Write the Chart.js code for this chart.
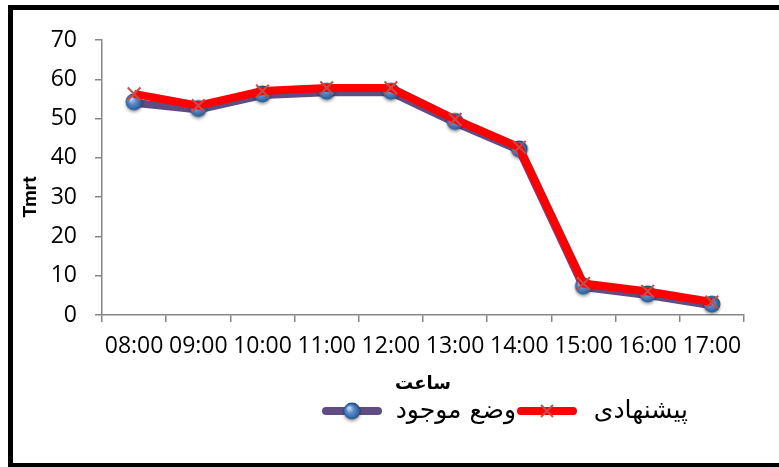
<!DOCTYPE html>
<html>
<head>
<meta charset="utf-8">
<script src="https://cdn.jsdelivr.net/npm/chart.js@4/dist/chart.umd.min.js"></script>
<style>
  html, body { margin: 0; padding: 0; background: #fff; }
  #wrap { width: 779px; height: 467px; }
</style>
</head>
<body>
<div id="wrap"><canvas id="tmrtChart" width="779" height="467"></canvas></div>
<script>
// ساعات اندازه‌گیری و مقادیر Tmrt
const hours = ['08:00', '09:00', '10:00', '11:00', '12:00', '13:00', '14:00', '15:00', '16:00', '17:00'];
const existingTmrt = [54, 52.3, 56, 56.7, 56.7, 49, 42, 7.1, 5.1, 2.5];
const proposedTmrt = [56.3, 53.3, 57, 57.8, 57.8, 49.8, 42.7, 8, 6, 3.3];
const yTicks = [0, 10, 20, 30, 40, 50, 60, 70];

const seriesNames = ['وضع موجود', 'پیشنهادی'];
const axisColor = '#868686';
const purple = '#5E4C82';
const red = '#FF0000';
const crossColor = '#C0504D';
const tickFont = { family: 'Open Sans', size: 23 };

// نشانگر کروی آبی
function makeSphere() {
    const c = document.createElement('canvas');
    c.width = 24; c.height = 24;
    const g = c.getContext('2d');
    g.shadowColor = 'rgba(0,0,0,0.35)';
    g.shadowBlur = 3;
    g.shadowOffsetY = 2;
    const grad = g.createRadialGradient(9, 8, 1, 12, 12, 9);
    grad.addColorStop(0, '#B9D3F0');
    grad.addColorStop(0.35, '#5B8FCB');
    grad.addColorStop(0.8, '#2E609C');
    grad.addColorStop(1, '#1E4573');
    g.fillStyle = grad;
    g.beginPath();
    g.arc(12, 11, 8.5, 0, Math.PI * 2);
    g.fill();
    return c;
}
const sphere = makeSphere();

// قاب، عنوان محور عمودی و راهنما
const decorations = {
    id: 'decorations',
    afterDraw(chart) {
        const ctx = chart.ctx;
        ctx.save();

        ctx.strokeStyle = '#000';
        ctx.lineWidth = 5;
        ctx.strokeRect(10.5, 7.5, 800, 458);

        ctx.fillStyle = '#000';
        ctx.font = 'bold 19px Roboto';
        ctx.textAlign = 'center';
        ctx.textBaseline = 'middle';
        ctx.translate(31, 197);
        ctx.rotate(-Math.PI / 2);
        ctx.fillText('Tmrt', 0, 0);
        ctx.setTransform(1, 0, 0, 1, 0, 0);

        const ly = 411;
        ctx.lineCap = 'round';
        ctx.lineWidth = 8;
        ctx.strokeStyle = purple;
        ctx.beginPath(); ctx.moveTo(326, ly); ctx.lineTo(378, ly); ctx.stroke();
        ctx.drawImage(sphere, 352 - 12, ly - 11);
        ctx.strokeStyle = red;
        ctx.beginPath(); ctx.moveTo(521, ly); ctx.lineTo(573, ly); ctx.stroke();
        ctx.lineCap = 'butt';
        ctx.lineWidth = 2;
        ctx.strokeStyle = crossColor;
        ctx.beginPath();
        ctx.moveTo(541, ly - 6); ctx.lineTo(553, ly + 6);
        ctx.moveTo(553, ly - 6); ctx.lineTo(541, ly + 6);
        ctx.stroke();

        ctx.fillStyle = '#000';
        ctx.font = '25px "DejaVu Sans"';
        ctx.textBaseline = 'middle';
        ctx.direction = 'rtl';
        ctx.textAlign = 'right';
        ctx.fillText(seriesNames[0], 516, ly);
        ctx.fillText(seriesNames[1], 688, ly);
        ctx.restore();
    }
};

new Chart(document.getElementById('tmrtChart'), {
    type: 'line',
    data: {
        labels: hours,
        datasets: [{
            label: seriesNames[0],
            data: existingTmrt,
            borderColor: purple,
            borderWidth: 8,
            pointStyle: sphere,
            pointRadius: 9,
            order: 2,
            tension: 0
        }, {
            label: seriesNames[1],
            data: proposedTmrt,
            borderColor: red,
            borderWidth: 8,
            pointStyle: 'crossRot',
            pointRadius: 9,
            pointBorderColor: crossColor,
            pointBorderWidth: 2,
            order: 1,
            tension: 0
        }]
    },
    options: {
        responsive: false,
        animation: false,
        layout: { padding: { left: 0, top: 40, right: 35, bottom: 0 } },
        plugins: { legend: { display: false }, tooltip: { enabled: false } },
        scales: {
            x: {
                offset: true,
                afterFit: function(scale) { scale.height = 152; },
                grid: { offset: true, drawOnChartArea: false, color: axisColor, tickLength: 7, lineWidth: 1.5 },
                border: { color: axisColor, width: 1.5 },
                ticks: { color: '#000', font: tickFont, maxRotation: 0, autoSkip: false, padding: 11 },
                title: {
                    display: true,
                    text: 'ساعت',
                    color: '#000',
                    font: { family: 'DejaVu Sans', size: 18, weight: 'bold' },
                    padding: { top: 0, bottom: 72 }
                }
            },
            y: {
                min: 0,
                max: 70,
                afterFit: function(scale) { scale.width = 102; },
                afterBuildTicks: function(scale) { scale.ticks = yTicks.map(v => ({ value: v })); },
                grid: { drawOnChartArea: false, color: axisColor, tickLength: 7, lineWidth: 1.5 },
                border: { color: axisColor, width: 1.5 },
                ticks: { color: '#000', font: tickFont, padding: 18 }
            }
        }
    },
    plugins: [decorations]
});
</script>
</body>
</html>
